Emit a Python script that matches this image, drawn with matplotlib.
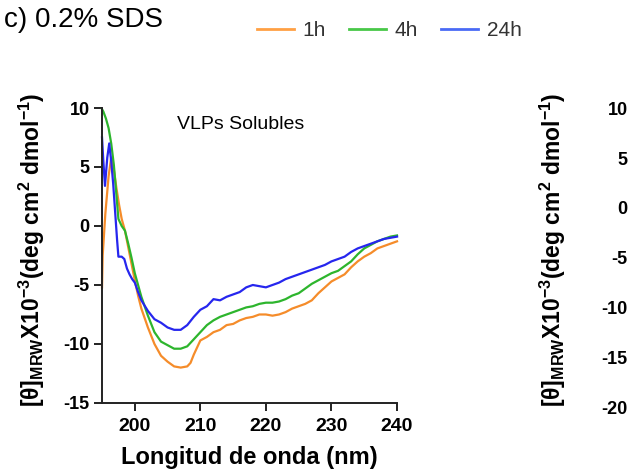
import matplotlib
matplotlib.use("Agg")
import matplotlib.pyplot as plt
from matplotlib.lines import Line2D

plt.rcParams['font.family'] = ['Liberation Sans', 'DejaVu Sans']
plt.rcParams['axes.unicode_minus'] = False
plt.rcParams['mathtext.fontset'] = 'custom'
plt.rcParams['mathtext.rm'] = 'Liberation Sans:bold'
plt.rcParams['mathtext.bf'] = 'Liberation Sans:bold'
plt.rcParams['mathtext.it'] = 'Liberation Sans:bold'

# CD spectra, VLPs solubles in 0.2% SDS
wl_1h = [195.0, 195.1, 195.5, 196.0, 196.4, 196.8, 197.2, 197.6, 198.0, 198.5, 199.0, 199.5,
         200.0, 200.5, 201, 202, 203, 204, 205, 206, 207, 208, 208.5, 209, 210, 211, 212, 213,
         214, 215, 216, 217, 218, 219, 220, 221, 222, 223, 224, 225, 226, 227, 228, 229, 230,
         231, 232, 233, 234, 235, 236, 237, 238, 239, 240]
cd_1h = [-5.2, -2.5, 1.0, 4.2, 5.8, 4.8, 3.2, 1.8, 0.6, -0.4, -1.8, -3.2,
         -4.6, -5.9, -7.0, -8.6, -10.0, -11.0, -11.5, -11.9, -12.0, -11.9, -11.6, -10.9, -9.7,
         -9.4, -9.0, -8.8, -8.4, -8.3, -8.0, -7.8, -7.7, -7.5, -7.5, -7.6, -7.5, -7.3, -7.0,
         -6.8, -6.6, -6.3, -5.7, -5.2, -4.7, -4.4, -4.1, -3.5, -3.0, -2.6, -2.3, -1.9, -1.7,
         -1.5, -1.3]

wl_4h = [195.0, 195.2, 195.6, 196.0, 196.4, 196.8, 197.2, 197.5, 198.0, 198.5, 199.0, 199.5,
         200.0, 200.5, 201, 202, 203, 204, 205, 206, 207, 208, 209, 210, 211, 212, 213, 214,
         215, 216, 217, 218, 219, 220, 221, 222, 223, 224, 225, 226, 227, 228, 229, 230, 231,
         232, 233, 234, 235, 236, 237, 238, 239, 240]
cd_4h = [9.9, 9.7, 9.1, 8.3, 7.0, 5.2, 2.6, 0.6, 0.0, -0.4, -1.5, -2.7,
         -4.0, -5.0, -6.0, -7.6, -9.0, -9.8, -10.1, -10.4, -10.4, -10.2, -9.6, -9.0, -8.4,
         -8.0, -7.7, -7.5, -7.3, -7.1, -6.9, -6.8, -6.6, -6.5, -6.5, -6.4, -6.2, -5.9, -5.7,
         -5.3, -4.9, -4.6, -4.3, -4.0, -3.8, -3.4, -3.0, -2.4, -1.9, -1.6, -1.3, -1.1, -0.9,
         -0.8]

wl_24h = [195.0, 195.2, 195.45, 195.8, 196.1, 196.4, 196.7, 197.0, 197.3, 197.5, 198.0, 198.4,
          198.8, 199.2, 199.6, 200.0, 200.5, 201, 202, 203, 204, 205, 206, 207, 208, 209, 210,
          211, 212, 213, 214, 215, 216, 217, 218, 219, 220, 221, 222, 223, 224, 225, 226, 227,
          228, 229, 230, 231, 232, 233, 234, 235, 236, 237, 238, 239, 240]
cd_24h = [7.5, 5.5, 3.4, 5.8, 7.0, 5.5, 3.6, 1.2, -1.2, -2.6, -2.6, -2.8,
          -3.6, -4.1, -4.5, -4.8, -5.6, -6.3, -7.2, -7.9, -8.2, -8.6, -8.8, -8.8, -8.4, -7.7,
          -7.1, -6.8, -6.2, -6.3, -6.0, -5.8, -5.6, -5.2, -5.0, -5.1, -5.2, -5.0, -4.8, -4.5,
          -4.3, -4.1, -3.9, -3.7, -3.5, -3.3, -3.0, -2.8, -2.6, -2.2, -1.9, -1.7, -1.5, -1.3,
          -1.1, -1.0, -0.9]

labels = ['1h', '4h', '24h']
line_colors = ['#F58C2A', '#2DB52D', '#2626EE']
legend_colors = ['#FFA044', '#48C848', '#4A6AF5']

x_ticks = [200, 210, 220, 230, 240]
y_ticks_left = [-15, -10, -5, 0, 5, 10]
y_ticks_right = [-20, -15, -10, -5, 0, 5, 10]

ylabel = r'[θ]$_{\mathrm{MRW}}$X10$^{\mathrm{-3}}$(deg cm$^{\mathrm{2}}$ dmol$^{\mathrm{-1}}$)'

fig = plt.figure(figsize=(6.29, 4.76), dpi=100)
ax = fig.add_axes([0.1622, 0.1534, 0.469, 0.6197])
ax2 = fig.add_axes([1.018, 0.1429, 0.4, 0.6302])

for wl, cd, c in zip([wl_1h, wl_4h, wl_24h], [cd_1h, cd_4h, cd_24h], line_colors):
    ax.plot(wl, cd, color=c, lw=1.6, clip_on=False)

ax.set_xlim(195, 240)
ax.set_ylim(-15, 10)
ax.set_xticks(x_ticks)
ax.set_yticks(y_ticks_left)
ax.text(0.281, 0.729, 'VLPs Solubles', fontsize=14, transform=fig.transFigure, va='baseline')
ax.set_xlabel('Longitud de onda (nm)', fontsize=17, fontweight='bold')
ax.xaxis.set_label_coords(249 / 629, 0.062, transform=fig.transFigure)
ax.set_ylabel(ylabel, fontsize=16.5, fontweight='bold')
ax.yaxis.set_label_coords(47 / 629, 0.475, transform=fig.transFigure)

ax2.set_ylim(-20, 10)
ax2.set_yticks(y_ticks_right)
ax2.set_xticks([])
ax2.set_ylabel(ylabel, fontsize=16.5, fontweight='bold')
ax2.yaxis.set_label_coords(568 / 629, 0.475, transform=fig.transFigure)

for a in (ax, ax2):
    for s in ('top', 'right'):
        a.spines[s].set_visible(False)
    for s in ('left', 'bottom'):
        a.spines[s].set_linewidth(1.4)
        a.spines[s].set_color('#222222')
    a.tick_params(axis='both', direction='out', length=6, width=1.4, color='#222222', pad=3)
    for lab in a.get_yticklabels():
        lab.set_fontsize(13)
        lab.set_fontweight('bold')
    for lab in a.get_xticklabels():
        lab.set_fontsize(14)
        lab.set_fontweight('bold')
ax.tick_params(axis='x', pad=5)

fig.text(0.006, 0.943, 'c) 0.2% SDS', fontsize=20, va='baseline')

handles = [Line2D([], [], color=c, lw=2) for c in legend_colors]
fig.legend(handles, labels, loc='center left', bbox_to_anchor=(0.408, 0.935), ncol=3,
           frameon=False, fontsize=15, handlelength=1.8, handletextpad=0.4,
           columnspacing=1.1, borderpad=0, borderaxespad=0, labelcolor='#333333')

fig.savefig('out.png', dpi=100, facecolor='white')
